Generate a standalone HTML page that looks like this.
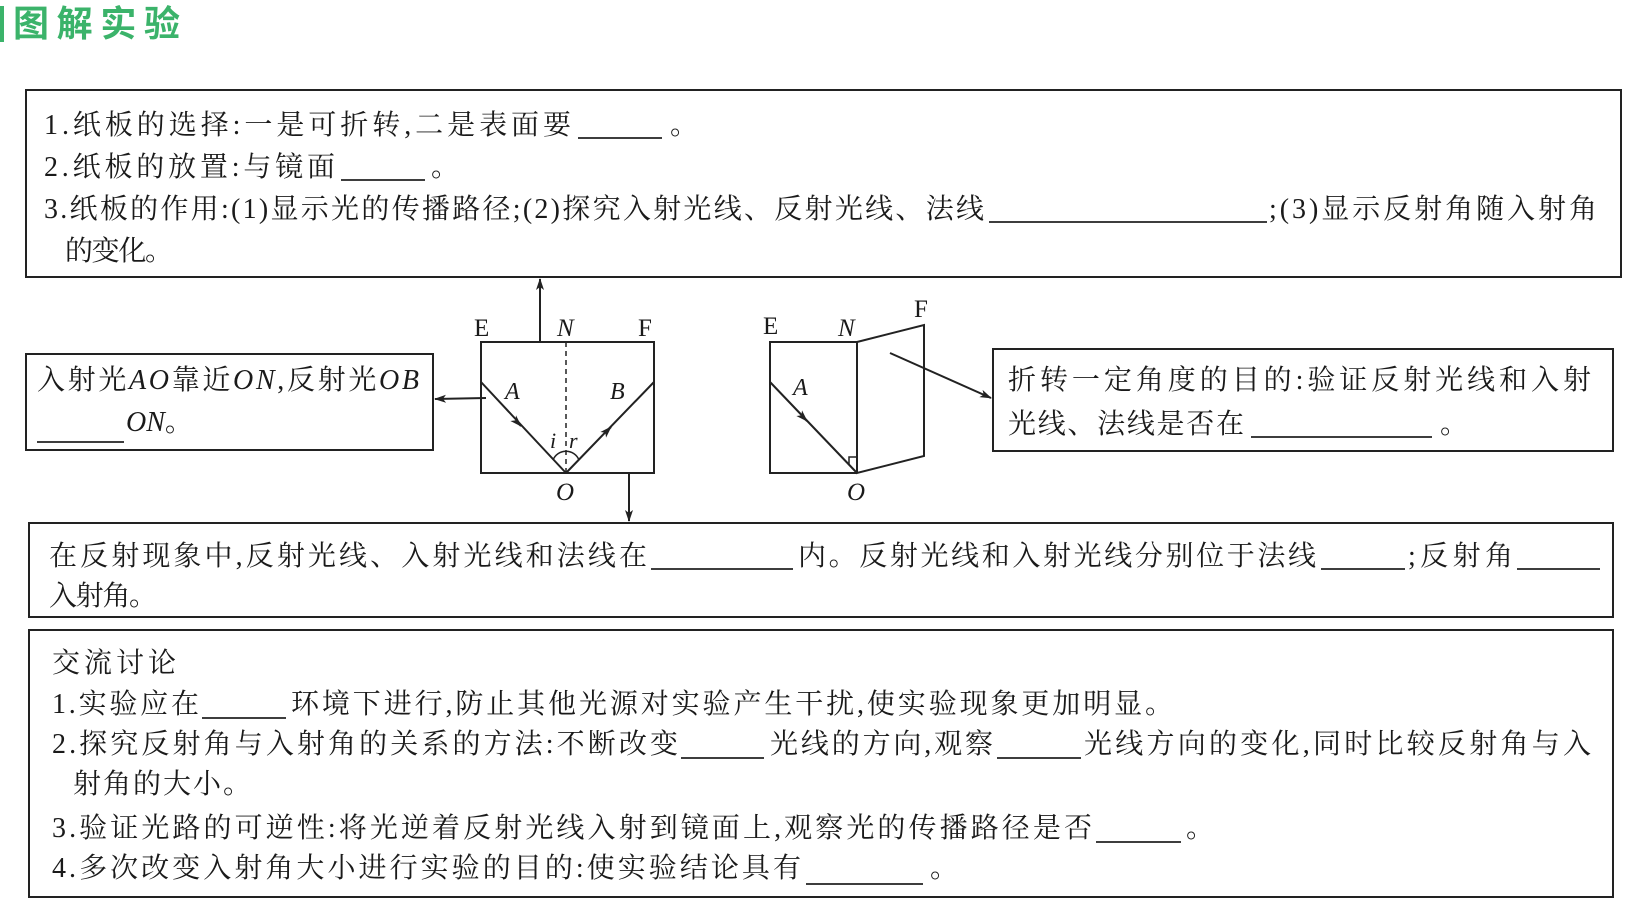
<!DOCTYPE html>
<html><head><meta charset="utf-8"><style>
html,body{margin:0;padding:0;background:#fff;}
svg{display:block}
text{font-family:"Liberation Serif","Noto Serif CJK SC",serif;font-size:28px;fill:#1a1a1a}
.i{font-style:italic}
</style></head><body>
<svg width="1641" height="923" viewBox="0 0 1641 923" xmlns="http://www.w3.org/2000/svg">
<defs><marker id="ar" markerWidth="12" markerHeight="10" refX="11" refY="5" orient="auto" markerUnits="userSpaceOnUse"><path d="M0,1 L12,5 L0,9 L3,5 Z" fill="#222"/></marker></defs>
<rect x="0" y="6" width="4" height="36" fill="#3bb36a"/>
<text x="13" y="36" style="font-family:'Noto Sans CJK SC',sans-serif;font-size:36px;font-weight:bold;fill:#3bb36a" textLength="167">图解实验</text>
<g fill="none" stroke="#222" stroke-width="2">
<rect x="26" y="90" width="1595" height="187"/>
<rect x="26" y="354" width="407" height="96"/>
<rect x="993" y="349" width="620" height="102"/>
<rect x="29" y="523" width="1584" height="94"/>
<rect x="29" y="630" width="1584" height="267"/>
<rect x="481" y="342" width="173" height="131"/>
<line x1="566" y1="342" x2="566" y2="473" stroke-dasharray="5,4" stroke-width="1.5"/>
<line x1="481" y1="382" x2="566" y2="473"/>
<line x1="566" y1="473" x2="654" y2="382"/>
<line x1="540" y1="342" x2="540" y2="279" marker-end="url(#ar)"/>
<line x1="629" y1="473" x2="629" y2="521" marker-end="url(#ar)"/>
<line x1="486" y1="398" x2="435" y2="399" marker-end="url(#ar)"/>
<path d="M553,460 A14,14 0 0 1 579,460" stroke-width="1.5"/>
<line x1="517" y1="422" x2="521" y2="426" marker-end="url(#ar)"/>
<line x1="606" y1="432" x2="611" y2="427" marker-end="url(#ar)"/>
<polyline points="857,342 770,342 770,473 857,473"/>
<polygon points="857,342 924,325 924,456 857,473"/>
<line x1="857" y1="342" x2="857" y2="473" stroke-dasharray="5,4" stroke-width="1.5"/>
<line x1="770" y1="382" x2="857" y2="473"/>
<line x1="802" y1="416" x2="807" y2="421" marker-end="url(#ar)"/>
<polyline points="849,464 849,457 857,457" stroke-width="1.5"/>
<line x1="890" y1="353" x2="991" y2="398" marker-end="url(#ar)"/>
<g stroke-width="1.8">
<line x1="578" y1="138" x2="662" y2="138"/>
<line x1="341" y1="180" x2="425" y2="180"/>
<line x1="989" y1="222" x2="1267" y2="222"/>
<line x1="37" y1="442" x2="124" y2="442"/>
<line x1="1251" y1="437" x2="1432" y2="437"/>
<line x1="651" y1="569" x2="793" y2="569"/>
<line x1="1321" y1="569" x2="1405" y2="569"/>
<line x1="1517" y1="569" x2="1600" y2="569"/>
<line x1="202" y1="718" x2="286" y2="718"/>
<line x1="681" y1="758" x2="764" y2="758"/>
<line x1="997" y1="758" x2="1081" y2="758"/>
<line x1="1096" y1="842" x2="1181" y2="842"/>
<line x1="806" y1="884" x2="923" y2="884"/>
</g>
</g>
<text x="474" y="336" style="font-size:25px">E</text>
<text x="557" y="336" class="i" style="font-size:25px">N</text>
<text x="638" y="336" style="font-size:25px">F</text>
<text x="505" y="399" class="i" style="font-size:24px">A</text>
<text x="610" y="399" class="i" style="font-size:24px">B</text>
<text x="550" y="448" class="i" style="font-size:22px">i</text>
<text x="569" y="448" class="i" style="font-size:22px">r</text>
<text x="556" y="500" class="i" style="font-size:25px">O</text>
<text x="763" y="334" style="font-size:25px">E</text>
<text x="838" y="336" class="i" style="font-size:25px">N</text>
<text x="914" y="317" style="font-size:25px">F</text>
<text x="793" y="395" class="i" style="font-size:24px">A</text>
<text x="847" y="500" class="i" style="font-size:25px">O</text>
<text x="44" y="134" textLength="527">1.纸板的选择:一是可折转,二是表面要</text>
<text x="670" y="134">。</text>
<text x="44" y="176" textLength="291">2.纸板的放置:与镜面</text>
<text x="431" y="176">。</text>
<text x="44" y="218" textLength="940">3.纸板的作用:(1)显示光的传播路径;(2)探究入射光线、反射光线、法线</text>
<text x="1269" y="218" textLength="328">;(3)显示反射角随入射角</text>
<text x="65" y="260" textLength="108">的变化。</text>
<text x="37" y="389" textLength="382">入射光<tspan class="i">AO</tspan>靠近<tspan class="i">ON</tspan>,反射光<tspan class="i">OB</tspan></text>
<text x="126" y="431"><tspan class="i">ON</tspan>。</text>
<text x="1008" y="389" textLength="583">折转一定角度的目的:验证反射光线和入射</text>
<text x="1008" y="433" textLength="236">光线、法线是否在</text>
<text x="1440" y="433">。</text>
<text x="49" y="565" textLength="598">在反射现象中,反射光线、入射光线和法线在</text>
<text x="798" y="565" textLength="518">内。反射光线和入射光线分别位于法线</text>
<text x="1408" y="565" textLength="105">;反射角</text>
<text x="49" y="605" textLength="108">入射角。</text>
<text x="52" y="672" textLength="124">交流讨论</text>
<text x="52" y="713" textLength="147">1.实验应在</text>
<text x="291" y="713" textLength="882">环境下进行,防止其他光源对实验产生干扰,使实验现象更加明显。</text>
<text x="52" y="753" textLength="626">2.探究反射角与入射角的关系的方法:不断改变</text>
<text x="770" y="753" textLength="223">光线的方向,观察</text>
<text x="1084" y="753" textLength="507">光线方向的变化,同时比较反射角与入</text>
<text x="73" y="793" textLength="178">射角的大小。</text>
<text x="52" y="837" textLength="1040">3.验证光路的可逆性:将光逆着反射光线入射到镜面上,观察光的传播路径是否</text>
<text x="1186" y="837">。</text>
<text x="52" y="877" textLength="749">4.多次改变入射角大小进行实验的目的:使实验结论具有</text>
<text x="930" y="877">。</text>
</svg>
</body></html>
